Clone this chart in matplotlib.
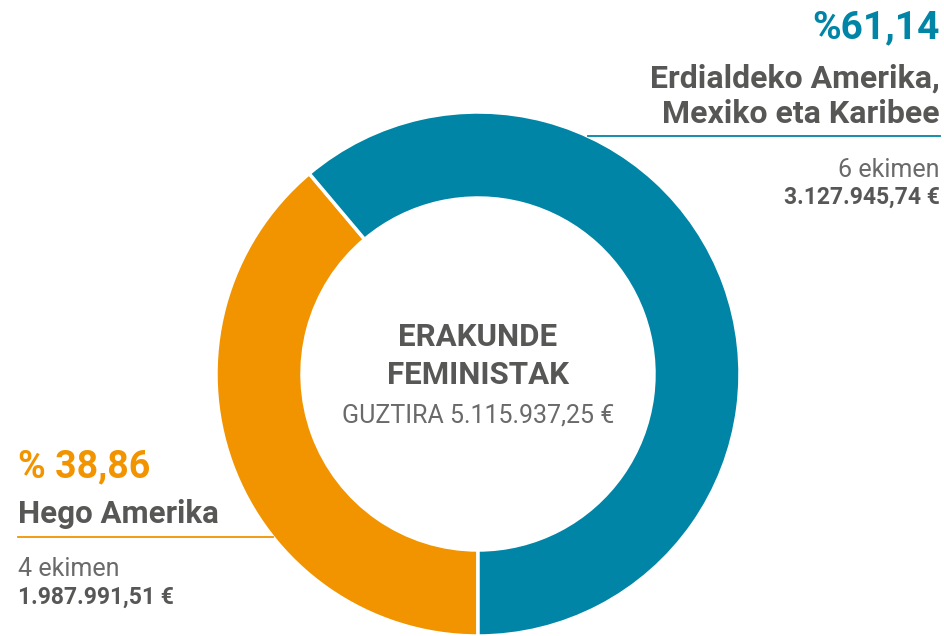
import matplotlib.pyplot as plt
import numpy as np

plt.rcParams['font.family'] = ['Roboto', 'DejaVu Sans']

# Datos
regiones = ['Hego Amerika', 'Erdialdeko Amerika,\nMexiko eta Karibee']
porcentajes = [38.86, 61.14]
etiquetas_pct = ['% 38,86', '%61,14']
ekimenak = ['4 ekimen', '6 ekimen']
importes = ['1.987.991,51 €', '3.127.945,74 €']
titulo = 'ERAKUNDE\nFEMINISTAK'
total = 'GUZTIRA 5.115.937,25 €'

colores = ['#F29400', '#0085A6']
gris = '#575756'
gris_claro = '#6a6a6a'

W, H = 944, 636
fig = plt.figure(figsize=(W / 100, H / 100), dpi=100)
ax = fig.add_axes([0, 0, 1, 1])

cx, cy, r = 478, H - 374, 262
ancho = 86

ax.pie(porcentajes, colors=colores, startangle=270, counterclock=False,
       radius=r, center=(cx, cy),
       wedgeprops=dict(width=ancho, edgecolor='white', linewidth=2.5))
ax.set_xlim(0, W)
ax.set_ylim(0, H)
ax.set_aspect('equal')
ax.axis('off')

# Centro
ax.text(cx, H - 356, titulo, ha='center', va='center', fontsize=22.5,
        fontweight='bold', color=gris, linespacing=1.3)
ax.text(cx, H - 415, total, ha='center', va='center', fontsize=18,
        color=gris_claro)

# Derecha: Erdialdeko Amerika
ax.text(940, H - 28, etiquetas_pct[1], ha='right', va='center', fontsize=28,
        fontweight='bold', color=colores[1])
ax.text(940, H - 96, regiones[1], ha='right', va='center', fontsize=23,
        fontweight='bold', color=gris, linespacing=1.22)
y_linea = H - 136
x_borde = cx + np.sqrt(r**2 - (y_linea - cy)**2)
ax.plot([x_borde, 940], [y_linea, y_linea], color=colores[1], lw=1.3)
ax.text(940, H - 170, ekimenak[1], ha='right', va='center', fontsize=18,
        color=gris_claro)
ax.text(940, H - 197, importes[1], ha='right', va='center', fontsize=16.5,
        fontweight='bold', color=gris)

# Izquierda: Hego Amerika
ax.text(18, H - 467, etiquetas_pct[0], ha='left', va='center', fontsize=27,
        fontweight='bold', color=colores[0])
ax.text(18, H - 514, regiones[0], ha='left', va='center', fontsize=22.5,
        fontweight='bold', color=gris)
y_linea = H - 537
x_borde = cx - np.sqrt(r**2 - (y_linea - cy)**2)
ax.plot([18, x_borde], [y_linea, y_linea], color=colores[0], lw=1.3)
ax.text(18, H - 569, ekimenak[0], ha='left', va='center', fontsize=18,
        color=gris_claro)
ax.text(18, H - 597, importes[0], ha='left', va='center', fontsize=16.5,
        fontweight='bold', color=gris)

fig.savefig('out.png', dpi=100)
